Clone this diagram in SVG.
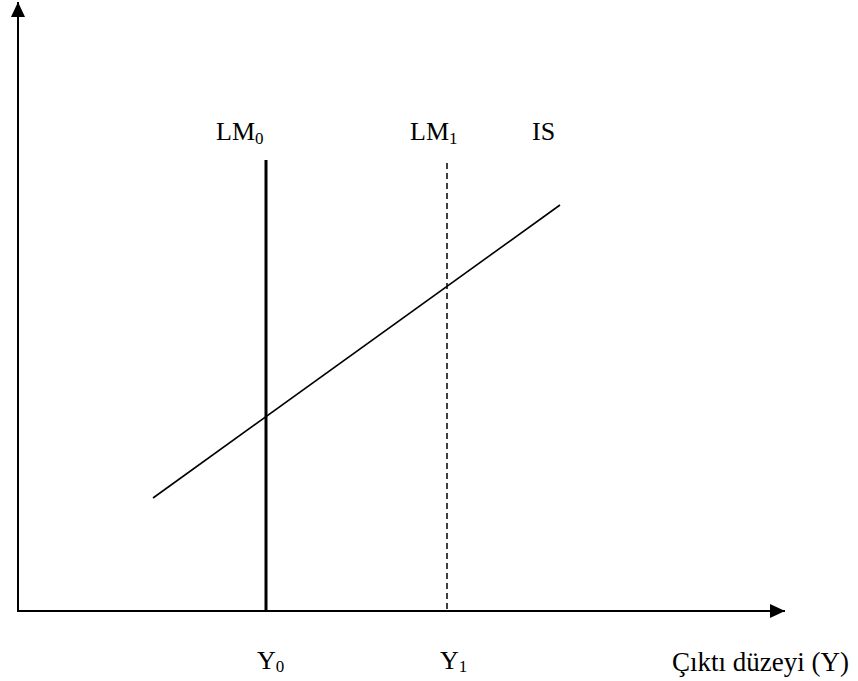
<svg xmlns="http://www.w3.org/2000/svg" width="858" height="681" viewBox="0 0 858 681">
<style>
text{font-family:"Liberation Serif","Times New Roman",serif;font-size:26px;fill:#000}
.sub{font-size:17px}
.ax{stroke:#000;stroke-width:2;fill:none}
</style>
<defs>
<marker id="ah" viewBox="0 0 15 14" refX="15" refY="7" markerWidth="15" markerHeight="14" markerUnits="userSpaceOnUse" orient="auto">
<path d="M0,0 L15,7 L0,14 Z" fill="#000"/>
</marker>
</defs>
<rect width="858" height="681" fill="#fff"/>
<g id="axes">
<line class="ax" x1="18" y1="612" x2="18" y2="2" marker-end="url(#ah)"/>
<line class="ax" x1="17" y1="611" x2="785" y2="611" marker-end="url(#ah)"/>
</g>
<g id="connectors">
<line id="LM0-line" x1="266" y1="160" x2="266" y2="611" stroke="#000" stroke-width="3"/>
<line id="LM1-line" x1="447" y1="163" x2="447" y2="611" stroke="#000" stroke-width="1.5" stroke-dasharray="6 4"/>
<line id="IS-line" x1="153" y1="498" x2="560" y2="205" stroke="#000" stroke-width="1.6"/>
</g>
<g id="LM0"><text x="216" y="140">LM<tspan class="sub" dy="4">0</tspan></text></g>
<g id="LM1"><text x="410" y="140">LM<tspan class="sub" dy="4">1</tspan></text></g>
<g id="IS"><text x="532" y="140">IS</text></g>
<g id="Y0"><text x="257" y="669">Y<tspan class="sub" dy="3">0</tspan></text></g>
<g id="Y1"><text x="440" y="669">Y<tspan class="sub" dy="3">1</tspan></text></g>
<g id="xlabel"><text x="672" y="671" style="font-size:27px">Çıktı düzeyi (Y)</text></g>
</svg>
